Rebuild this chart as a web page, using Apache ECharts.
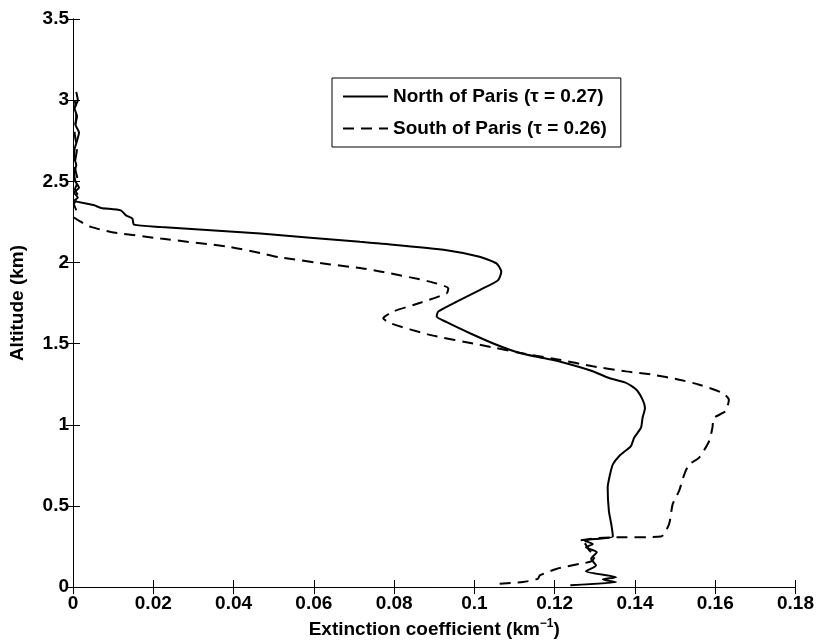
<!DOCTYPE html>
<html>
<head>
<meta charset="utf-8">
<script src="https://cdn.jsdelivr.net/npm/echarts@6/dist/echarts.min.js"></script>
<style>html,body{margin:0;padding:0;background:#fff}#c{width:817px;height:644px}</style>
</head>
<body>
<div id="c"></div>
<script>
// Extinction coefficient (km^-1) vs altitude (km)
const northX = [0.1239,0.1353,0.1320,0.1353,0.1278,0.1303,0.1291,0.1305,0.1278,0.1295,0.1274,0.1299,0.1345,0.1341,0.1335,0.1332,0.1338,0.1345,0.1361,0.1390,0.1398,0.1415,0.1419,0.1425,0.1419,0.1403,0.1378,0.1335,0.1295,0.1212,0.1171,0.1113,0.1055,0.0989,0.0931,0.0906,0.0910,0.0956,0.1013,0.1059,0.1067,0.1055,0.1013,0.0931,0.0765,0.0715,0.0467,0.0219,0.0152,0.0148,0.0132,0.0119,0.0070,0.0053,0.0003,0.0012,0.0003,0.0015,0.0006,0.0003,0.0008,0.0003,0.0004,0.0010,0.0015,0.0006,0.0010,0.0004,0.0012,0.0008];
const northAlt = [0.012,0.031,0.047,0.061,0.098,0.133,0.174,0.215,0.245,0.266,0.287,0.296,0.311,0.388,0.470,0.613,0.695,0.756,0.808,0.869,0.920,0.982,1.043,1.104,1.155,1.217,1.258,1.288,1.330,1.390,1.411,1.442,1.493,1.564,1.632,1.667,1.698,1.759,1.830,1.891,1.943,1.994,2.035,2.076,2.117,2.127,2.178,2.219,2.233,2.270,2.290,2.321,2.336,2.352,2.382,2.400,2.430,2.460,2.500,2.550,2.600,2.650,2.700,2.750,2.800,2.850,2.900,2.950,3.000,3.050];

const southX = [0.1063,0.1121,0.1158,0.1163,0.1204,0.1262,0.1291,0.1300,0.1285,0.1275,0.1262,0.1300,0.1345,0.1465,0.1485,0.1494,0.1510,0.1523,0.1535,0.1560,0.1585,0.1593,0.1597,0.1626,0.1634,0.1618,0.1560,0.1510,0.1444,0.1378,0.1295,0.1212,0.1138,0.1013,0.0889,0.0790,0.0773,0.0798,0.0848,0.0931,0.0935,0.0889,0.0765,0.0715,0.0641,0.0517,0.0467,0.0384,0.0219,0.0094,0.0045,0.0020,0.0003,0.0008,0.0002,0.0015,0.0005,0.0012,0.0004,0.0010,0.0004,0.0008,0.0005];
const southAlt = [0.020,0.031,0.051,0.072,0.112,0.143,0.158,0.190,0.230,0.270,0.285,0.300,0.306,0.311,0.388,0.511,0.593,0.695,0.756,0.798,0.900,0.982,1.043,1.084,1.155,1.196,1.247,1.278,1.309,1.329,1.360,1.401,1.431,1.493,1.554,1.626,1.656,1.698,1.738,1.810,1.840,1.882,1.945,1.966,1.988,2.031,2.058,2.098,2.147,2.188,2.219,2.250,2.280,2.320,2.360,2.400,2.450,2.500,2.600,2.700,2.800,2.900,3.000];

const seriesNames = ['North of Paris (\u03c4 = 0.27)', 'South of Paris (\u03c4 = 0.26)'];
const xTitle = 'Extinction coefficient (km';
const xTitleSup = '\u22121';
const yTitle = 'Altitude (km)';

const FONT = "'Liberation Sans', Arial, Helvetica, sans-serif";
const FS = 19;
const pairs = (xs, ys) => xs.map((v, i) => [v, ys[i]]);

const chart = echarts.init(document.getElementById('c'), null, {renderer: 'canvas'});
const axisCommon = {
  type: 'value',
  axisLine: {show: true, lineStyle: {color: '#000', width: 1}},
  axisTick: {show: true, inside: true, length: 7, lineStyle: {color: '#000'}},
  splitLine: {show: false}
};
chart.setOption({
  animation: false,
  backgroundColor: '#fff',
  grid: {left: 72, right: 20, top: 19, bottom: 54, containLabel: false},
  legend: {
    orient: 'vertical', left: 332, top: 78,
    backgroundColor: '#fff', borderColor: '#000', borderWidth: 1,
    padding: [9, 14, 9, 10], itemWidth: 45, itemHeight: 14, itemGap: 13,
    itemStyle: {color: 'rgba(0,0,0,0)', borderWidth: 0, opacity: 0},
    textStyle: {fontFamily: FONT, fontSize: FS, fontWeight: 'bold', color: '#000'},
    data: seriesNames
  },
  xAxis: [
    Object.assign({}, axisCommon, {
      position: 'bottom', min: 0, max: 0.18, interval: 0.02,
      axisLabel: {color: '#000', fontFamily: FONT, fontSize: FS, fontWeight: 'bold', margin: 7,
        formatter: v => String(+v.toFixed(2))},
      name: '{a|' + xTitle + '}{s|' + xTitleSup + '}{a|)}',
      nameLocation: 'middle', nameGap: 30,
      nameTextStyle: {rich: {
        a: {fontFamily: FONT, fontSize: FS, fontWeight: 'bold', color: '#000'},
        s: {fontFamily: FONT, fontSize: 12, fontWeight: 'bold', color: '#000', padding: [0, 0, 11, 0]}
      }}
    }),
    Object.assign({}, axisCommon, {
      position: 'top', min: 0, max: 0.18, interval: 0.02, axisLabel: {show: false}
    })
  ],
  yAxis: [
    Object.assign({}, axisCommon, {
      position: 'left', min: 0, max: 3.5, interval: 0.5,
      axisLabel: {color: '#000', fontFamily: FONT, fontSize: FS, fontWeight: 'bold', margin: 4,
        formatter: v => String(+v.toFixed(1))},
      name: yTitle, nameLocation: 'middle', nameGap: 46, nameRotate: 90,
      nameTextStyle: {fontFamily: FONT, fontSize: FS, fontWeight: 'bold', color: '#000'}
    }),
    Object.assign({}, axisCommon, {
      position: 'right', min: 0, max: 3.5, interval: 0.5, axisLabel: {show: false}
    })
  ],
  series: [
    {
      name: seriesNames[0], type: 'line', xAxisIndex: 0, yAxisIndex: 0,
      symbol: 'none', showSymbol: false, smooth: 0.2,
      lineStyle: {color: '#000', width: 2, type: 'solid'},
      itemStyle: {color: '#000'},
      data: pairs(northX, northAlt)
    },
    {
      name: seriesNames[1], type: 'line', xAxisIndex: 0, yAxisIndex: 0,
      symbol: 'none', showSymbol: false, smooth: 0.2,
      lineStyle: {color: '#000', width: 2, type: [11, 7]},
      itemStyle: {color: '#000'},
      data: pairs(southX, southAlt)
    }
  ]
});
</script>
</body>
</html>
